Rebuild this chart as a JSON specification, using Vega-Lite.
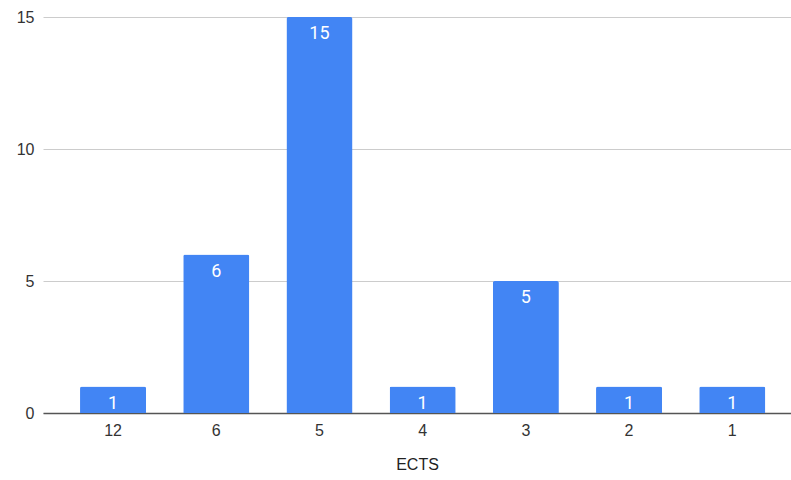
{
  "$schema": "https://vega.github.io/schema/vega-lite/v6.json",
  "autosize": "none",
  "width": 748,
  "height": 396,
  "padding": {"left": 43, "top": 17, "right": 0, "bottom": 67},
  "background": "white",
  "config": {
    "view": {"stroke": null},
    "font": "Liberation Sans"
  },
  "data": {
    "values": [
      {"ects": "12", "count": 1},
      {"ects": "6", "count": 6},
      {"ects": "5", "count": 15},
      {"ects": "4", "count": 1},
      {"ects": "3", "count": 5},
      {"ects": "2", "count": 1},
      {"ects": "1", "count": 1}
    ]
  },
  "encoding": {
    "x": {
      "field": "ects",
      "type": "nominal",
      "sort": null,
      "scale": {"paddingInner": 0.36, "paddingOuter": 0.304, "align": 0.59},
      "axis": {
        "title": "ECTS",
        "labelAngle": 0,
        "ticks": false,
        "labelPadding": 9,
        "labelFont": "Liberation Sans",
        "labelFontSize": 16,
        "labelColor": "#333333",
        "titleFont": "Liberation Sans",
        "titleFontSize": 16,
        "titleFontWeight": "normal",
        "titleColor": "#222222",
        "titlePadding": 18,
        "domainColor": "#555555",
        "domainWidth": 1.5
      }
    },
    "y": {
      "field": "count",
      "type": "quantitative",
      "scale": {"domain": [0, 15], "nice": false},
      "axis": {
        "title": null,
        "values": [0, 5, 10, 15],
        "ticks": false,
        "domain": false,
        "labelPadding": 9,
        "labelFont": "Liberation Sans",
        "labelFontSize": 16,
        "labelColor": "#333333",
        "gridColor": "#cccccc",
        "gridWidth": 1
      }
    }
  },
  "layer": [
    {
      "mark": {"type": "bar", "color": "#4285f4", "cornerRadiusTopLeft": 2, "cornerRadiusTopRight": 2}
    },
    {
      "mark": {"type": "text", "color": "white", "baseline": "top", "dy": 8, "fontSize": 18, "font": "Roboto"},
      "encoding": {"text": {"field": "count", "type": "quantitative"}}
    }
  ]
}
